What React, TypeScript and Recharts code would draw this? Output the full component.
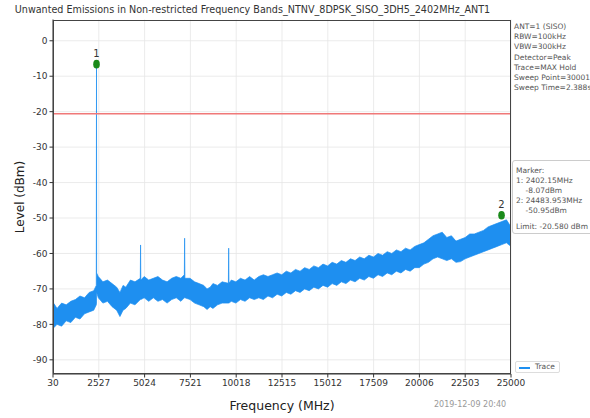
import React from 'react';
import { ComposedChart, Area, Scatter, XAxis, YAxis, CartesianGrid, ReferenceLine, LabelList } from 'recharts';

// trace envelope (max hold band)
const FREQS = [
  30, 60, 250, 500, 750, 1000, 1250, 1500, 1750, 2000, 2250, 2390, 2402, 2409, 2500, 2750, 3000, 3250, 3500, 3680,
  3850, 4000, 4250, 4500, 4790, 4804, 4818, 5000, 5250, 5500, 5750, 6000, 6250, 6500, 6750, 7000, 7190, 7206, 7222, 7500,
  7750, 8000, 8250, 8430, 8600, 8750, 9000, 9250, 9592, 9608, 9624, 9750, 10000, 10250, 10500, 10750, 11000, 11250, 11500, 11750,
  12000, 12250, 12500, 12750, 13000, 13250, 13500, 13750, 14000, 14250, 14500, 14750, 15000, 15250, 15500, 15750, 16000, 16250, 16500, 16750,
  17000, 17250, 17500, 17750, 18000, 18250, 18500, 18750, 19000, 19250, 19500, 19750, 20000, 20250, 20500, 20750, 21000, 21250, 21500, 21750,
  22000, 22250, 22500, 22750, 23000, 23250, 23500, 23750, 24000, 24250, 24500, 24750, 25000,
];
const LOWS = [
  -80.5, -81, -80, -80.5, -79, -79.5, -78, -78.5, -77, -76.5, -76, -74.5, -74, -71, -72.5, -74, -73.5, -75, -76, -77.8,
  -76, -75.5, -74, -74.5, -73, -73, -73, -72.5, -73.5, -72.5, -73.5, -73, -74, -73, -72.5, -73.5, -72.5, -72.5, -72.5, -73,
  -74, -74.5, -75, -75.8, -75, -75.5, -74.5, -74, -74, -74, -74, -73.5, -74, -73, -73.5, -72.5, -73, -72.5, -73, -72,
  -72.5, -71.5, -72, -71, -71.5, -70.5, -71, -70, -70.5, -69.5, -70, -69, -69.5, -68.5, -69, -68, -68.5, -67.5, -68, -67,
  -67.5, -66.5, -67, -66, -66.5, -65.5, -66, -65, -65.5, -64.5, -65, -64, -64, -63, -62.5, -61.5, -61, -61.5, -62, -61.5,
  -62.5, -62.3, -61.5, -61, -60.5, -60, -59.5, -59, -58.5, -58, -57.5, -57, -58,
];
const HIGHS = [
  -70, -74, -75.5, -74, -74.5, -73.5, -73, -72, -72.5, -71, -70.5, -69, -6.6, -65.5, -66.5, -68, -67.5, -68.5, -69.5, -71,
  -69, -69.5, -67.5, -68, -67, -57.6, -67.5, -66.5, -67.5, -67, -66.5, -67.5, -68, -67, -66.5, -67, -66, -55.7, -67, -67,
  -68, -68.5, -69, -70, -69.5, -68.5, -69, -68, -68.4, -58.5, -68.4, -67.5, -68, -67, -67.5, -66.5, -67.5, -66.5, -66, -66.5,
  -66, -65.5, -66, -65, -65.5, -64.5, -65, -64, -64.5, -63.5, -64, -63, -63.5, -62.5, -63, -62, -62.5, -61.5, -62, -61,
  -61.5, -60.5, -61, -60, -60.5, -59.5, -60, -59, -59.5, -58.5, -59, -58, -57.5, -57, -56, -55, -54.5, -54, -55.5, -55,
  -56.5, -56, -55.5, -54.5, -54.5, -54, -53.5, -52.5, -52, -51.5, -51, -50.5, -52.5,
];

const X_TICKS = [30, 2527, 5024, 7521, 10018, 12515, 15012, 17509, 20006, 22503, 25000];
const Y_TICKS = [0, -10, -20, -30, -40, -50, -60, -70, -80, -90];
const LIMIT = -20.58;

const MARKER_FREQS = [2402, 24484];
const MARKER_LEVELS = [-6.6, -49.2];
const MARKER_NAMES = ['1', '2'];

const INFO_LINES = ['ANT=1 (SISO)', 'RBW=100kHz', 'VBW=300kHz', 'Detector=Peak', 'Trace=MAX Hold', 'Sweep Point=30001', 'Sweep Time=2.388s'];
const MARKER_LINES = ['Marker:', '1: 2402.15MHz', '    -8.07dBm', '2: 24483.953MHz', '    -50.95dBm', '', 'Limit: -20.580 dBm'];

const trace = FREQS.map((f, i) => ({ f, range: [LOWS[i], HIGHS[i]] }));
const markers = MARKER_FREQS.map((f, i) => ({ f, v: MARKER_LEVELS[i], name: MARKER_NAMES[i] }));

const FONT = '"DejaVu Sans", sans-serif';
const BLUE = '#1e8ff0';

const Dot = (props: any) => {
  const { cx, cy } = props;
  return <ellipse cx={cx} cy={cy} rx={3.3} ry={4.3} fill="#1a8a1a" />;
};

export default function App() {
  return (
    <div style={{ position: 'absolute', left: 0, top: 0, width: 590, height: 418, background: '#fff', fontFamily: FONT, overflow: 'hidden' }}>
      <ComposedChart width={590} height={418} data={trace} margin={{ top: 19.5, right: 79, bottom: 14, left: 8 }}>
        <CartesianGrid stroke="#e6e6e6" strokeWidth={0.8} verticalValues={X_TICKS} horizontalValues={Y_TICKS} />
        <XAxis
          dataKey="f"
          type="number"
          domain={[30, 25000]}
          ticks={X_TICKS}
          height={30}
          allowDataOverflow
          stroke="#333"
          tickSize={3.5}
          tick={{ fontSize: 9, fill: '#333', fontFamily: FONT }}
        />
        <YAxis
          type="number"
          domain={[-94, 6]}
          ticks={Y_TICKS}
          width={45}
          allowDataOverflow
          stroke="#333"
          tickSize={3.5}
          tick={{ fontSize: 9, fill: '#333', fontFamily: FONT }}
        />
        <Area dataKey="range" stroke={BLUE} strokeWidth={0.7} fill={BLUE} fillOpacity={1} isAnimationActive={false} />
        <ReferenceLine y={LIMIT} stroke="#f07878" strokeWidth={1.5} />
        <Scatter data={markers} dataKey="v" shape={<Dot />} isAnimationActive={false}>
          <LabelList dataKey="name" position="top" offset={3} fill="#333" fontSize={10} fontFamily={FONT} />
        </Scatter>
      </ComposedChart>

      {/* plot frame */}
      <div style={{ position: 'absolute', left: 53, top: 19.5, width: 458, height: 354.5, border: '1px solid #444', boxSizing: 'border-box', pointerEvents: 'none' }} />

      <div style={{ position: 'absolute', left: 0, width: 505, top: 4, textAlign: 'center', fontSize: 9.6, color: '#333', whiteSpace: 'nowrap' }}>
        Unwanted Emissions in Non-restricted Frequency Bands_NTNV_8DPSK_SISO_3DH5_2402MHz_ANT1
      </div>

      <div style={{ position: 'absolute', left: 20, top: 197, transform: 'translate(-50%, -50%) rotate(-90deg)', fontSize: 12, color: '#222', whiteSpace: 'nowrap' }}>
        Level (dBm)
      </div>
      <div style={{ position: 'absolute', left: 282, top: 405, transform: 'translate(-50%, -50%)', fontSize: 12.5, color: '#222', whiteSpace: 'nowrap' }}>
        Frequency (MHz)
      </div>
      <div style={{ position: 'absolute', left: 434, top: 400, fontSize: 8, color: '#999', whiteSpace: 'nowrap' }}>
        2019-12-09 20:40
      </div>

      <div style={{ position: 'absolute', left: 514, top: 22, fontSize: 7.5, lineHeight: '10.2px', color: '#555', whiteSpace: 'pre' }}>
        {INFO_LINES.join('\n')}
      </div>

      <div style={{ position: 'absolute', left: 512, top: 160, width: 90, height: 74, border: '1px solid #ccc', borderRadius: 3, boxSizing: 'border-box', padding: '5px 0 0 3px', fontSize: 7.5, lineHeight: '10px', color: '#555', whiteSpace: 'pre' }}>
        {MARKER_LINES.slice(0, 5).join('\n')}
        <div style={{ marginTop: 6 }}>{MARKER_LINES[6]}</div>
      </div>

      <div style={{ position: 'absolute', left: 515, top: 361, width: 45, height: 12, border: '1px solid #ddd', borderRadius: 2, boxSizing: 'border-box', fontSize: 7.5, color: '#555' }}>
        <div style={{ position: 'absolute', left: 3, top: 5, width: 11, height: 1.5, background: BLUE }} />
        <div style={{ position: 'absolute', left: 19, top: 0, lineHeight: '10px' }}>Trace</div>
      </div>
    </div>
  );
}
